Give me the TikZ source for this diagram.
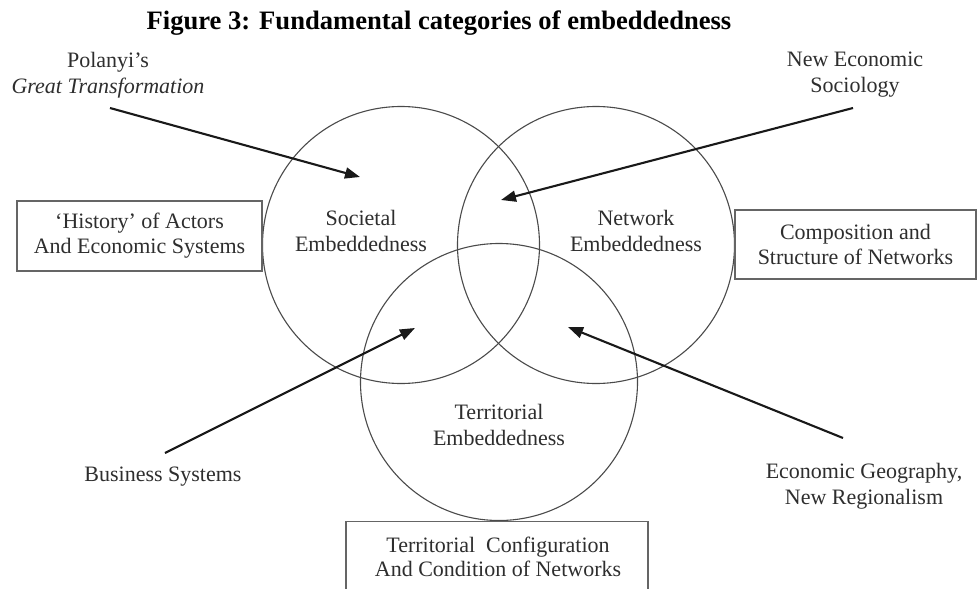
\documentclass[tikz,border=0pt]{standalone}
\usepackage{fontspec}
\setmainfont{Liberation Serif}
\usetikzlibrary{arrows.meta}
\definecolor{ink}{HTML}{2E2E2E}
\definecolor{rim}{HTML}{4A4A4A}
\begin{document}
\begin{tikzpicture}[x=1pt,y=-1pt,
  lbl/.style={inner sep=0pt,align=center,text=ink,font=\fontsize{22}{26}\selectfont},
  ring/.style={circle,draw=rim,line width=1.1pt,minimum size=277pt,inner sep=0pt},
  framebox/.style={draw=rim!85,line width=1.4pt,inner sep=0pt,align=center,text=ink,
    font=\fontsize{22}{25}\selectfont},
  pointer/.style={draw=black!90,line width=2.1pt,-{Triangle[length=15pt,width=11pt]}}]
\useasboundingbox (0,0) rectangle (978,589);
\fill[white] (0,0) rectangle (978,589);

% title
\node[anchor=base,inner sep=0pt,font=\bfseries\fontsize{26.6}{30}\selectfont] (title) at (439,30)
  {Figure 3: Fundamental categories of embeddedness};

% the three overlapping categories
\node[ring] (soc) at (401,245) {};
\node[ring] (net) at (596,245) {};
\node[ring] (ter) at (499,382) {};

\node[lbl] (socl) at (361,231) {Societal\\Embeddedness};
\node[lbl] (netl) at (636,231) {Network\\Embeddedness};
\node[lbl] (terl) at (499,425) {Territorial\\Embeddedness};

% side boxes
\node[framebox,minimum width=245pt,minimum height=70pt] (hist) at (139.5,236)
  {`History' of Actors\\And Economic Systems};
\node[framebox,minimum width=241pt,minimum height=69pt] (comp) at (855.5,244.5)
  {Composition and\\Structure of Networks};
\node[framebox,minimum width=302pt,minimum height=80pt,anchor=north] (tcfg) at (497,521) {};
\node[lbl,font=\fontsize{22}{24}\selectfont] (tcfgl) at (498,556.5)
  {Territorial\ \ Configuration\\And Condition of Networks};

% research traditions
\node[lbl] (pol) at (108,75) {Polanyi's\\\textit{Great Transformation}};
\node[lbl] (nes) at (855,75) {New Economic\\Sociology};
\node[lbl] (bus) at (163,477) {Business Systems};
\node[lbl] (geo) at (864,486) {Economic Geography,\\New Regionalism};

% arrow ends
\coordinate (polA) at (110,108);  \coordinate (polB) at (360,177);
\coordinate (nesA) at (853,108);  \coordinate (nesB) at (501,200);
\coordinate (busA) at (165,453);  \coordinate (busB) at (415,328);
\coordinate (geoA) at (843,438);  \coordinate (geoB) at (568,327);

\draw[pointer] (polA) -- (polB);
\draw[pointer] (nesA) -- (nesB);
\draw[pointer] (busA) -- (busB);
\draw[pointer] (geoA) -- (geoB);
\end{tikzpicture}
\end{document}
